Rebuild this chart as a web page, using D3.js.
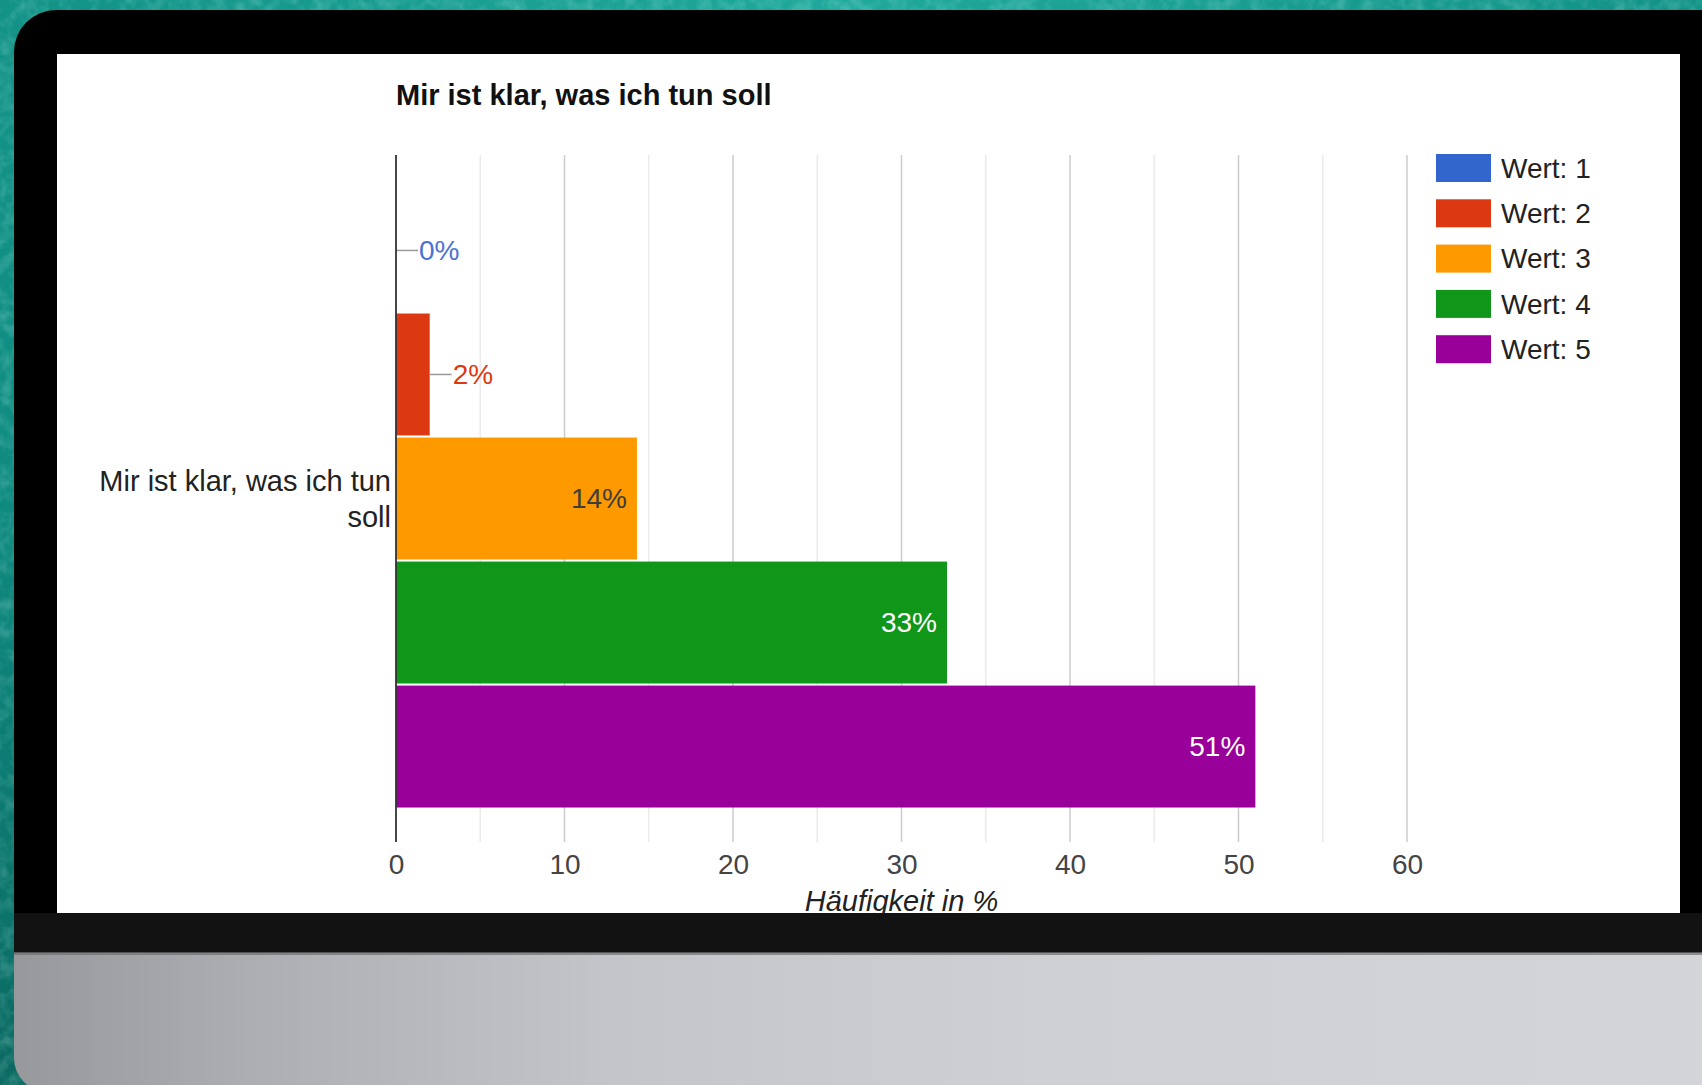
<!DOCTYPE html>
<html>
<head>
<meta charset="utf-8">
<script src="https://cdn.jsdelivr.net/npm/d3@7"></script>
<style>
  html, body { margin: 0; padding: 0; background: #0f8a80; overflow: hidden; }
  svg { display: block; }
  text { font-family: "Liberation Sans", Arial, sans-serif; }
</style>
</head>
<body>
<svg id="chart" width="1702" height="1085"></svg>
<script>
// ---- data ----
const chartTitle = "Mir ist klar, was ich tun soll";
const categories = ["Mir ist klar, was ich tun soll"];
const categoryLines = [["Mir ist klar, was ich tun", "soll"]];
const seriesNames = ["Wert: 1", "Wert: 2", "Wert: 3", "Wert: 4", "Wert: 5"];
const seriesValues = [0, 2.0, 14.3, 32.7, 51.0];
const valueLabels = ["0%", "2%", "14%", "33%", "51%"];
const xTicks = [0, 10, 20, 30, 40, 50, 60];
const gridValues = [5, 10, 15, 20, 25, 30, 35, 40, 45, 50, 55, 60];
const axisTitle = "Häufigkeit in %";

// ---- styles ----
const seriesColors = ["#3366cc", "#dc3912", "#ff9900", "#109618", "#990099"];
const insideTextColors = ["#ffffff", "#ffffff", "#3d3d3d", "#ffffff", "#ffffff"];
const outsideTextColors = ["#4a72d4", "#dc3912", "#ff9900", "#109618", "#990099"];

const svg = d3.select("#chart");
const W = 1702, H = 1085;
const defs = svg.append("defs");

// background teal with texture
const bgGrad = defs.append("radialGradient").attr("id", "bgGrad")
  .attr("cx", "0.5").attr("cy", "0").attr("r", "1.1");
bgGrad.append("stop").attr("offset", "0%").attr("stop-color", "#1fa89b");
bgGrad.append("stop").attr("offset", "60%").attr("stop-color", "#0f8b80");
bgGrad.append("stop").attr("offset", "100%").attr("stop-color", "#0a6a62");
const noise = defs.append("filter").attr("id", "noise").attr("x", 0).attr("y", 0).attr("width", "100%").attr("height", "100%");
noise.append("feTurbulence").attr("type", "fractalNoise").attr("baseFrequency", "0.08").attr("numOctaves", 3).attr("seed", 4).attr("result", "t");
noise.append("feColorMatrix").attr("type", "matrix")
  .attr("values", "0 0 0 0 0.6  0 0 0 0 1  0 0 0 0 0.95  0 0 0 1.2 -0.45");
svg.append("rect").attr("width", W).attr("height", H).attr("fill", "url(#bgGrad)");
svg.append("rect").attr("width", W).attr("height", H).attr("filter", "url(#noise)").attr("opacity", 0.35);

// monitor frame
const fx = 14, fy = 10, r1 = 42, r2 = 34, fRight = 1740, fBottom = 1092;
const framePath = `M${fx},${fy + r1} A${r1},${r1} 0 0 1 ${fx + r1},${fy} L${fRight},${fy} L${fRight},${fBottom} L${fx + r2},${fBottom} A${r2},${r2} 0 0 1 ${fx},${fBottom - r2} Z`;
defs.append("clipPath").attr("id", "frameClip").append("path").attr("d", framePath);
const fg = svg.append("g").attr("clip-path", "url(#frameClip)");
fg.append("rect").attr("x", 0).attr("y", 0).attr("width", W + 50).attr("height", 915).attr("fill", "#000");
fg.append("rect").attr("x", 0).attr("y", 913).attr("width", W + 50).attr("height", 41).attr("fill", "#121212");
const silver = defs.append("linearGradient").attr("id", "silver").attr("x1", 0).attr("x2", 1).attr("y1", 0).attr("y2", 0);
[["0%", "#96979b"], ["15%", "#aeafb3"], ["35%", "#c4c5c9"], ["60%", "#cfd0d4"], ["100%", "#d4d5d9"]]
  .forEach(([o, c]) => silver.append("stop").attr("offset", o).attr("stop-color", c));
fg.append("rect").attr("x", 0).attr("y", 953).attr("width", W + 50).attr("height", 140).attr("fill", "url(#silver)");
fg.append("rect").attr("x", 0).attr("y", 952).attr("width", W + 50).attr("height", 3).attr("fill", "#6e6f73").attr("opacity", 0.7);

// white panel
const panel = { x: 57, y: 54, w: 1623, h: 859 };
defs.append("clipPath").attr("id", "panelClip").append("rect")
  .attr("x", panel.x).attr("y", panel.y).attr("width", panel.w).attr("height", panel.h);
svg.append("rect").attr("x", panel.x).attr("y", panel.y).attr("width", panel.w).attr("height", panel.h).attr("fill", "#fff");
const g = svg.append("g").attr("clip-path", "url(#panelClip)");

// scales
const plot = { left: 396, right: 1407, top: 155, bottom: 842 };
const x = d3.scaleLinear().domain([0, 60]).range([plot.left, plot.right]);
const y0 = d3.scaleBand().domain(categories).range([plot.top, plot.bottom]).paddingOuter(0.0558).paddingInner(0);
const y1 = d3.scaleBand().domain(seriesNames).range([0, y0.bandwidth()]).paddingInner(0.017).paddingOuter(0);

// title
g.append("text").attr("x", 396).attr("y", 105).attr("font-size", 29).attr("font-weight", "bold")
  .attr("fill", "#111").text(chartTitle);

// gridlines
g.append("g").selectAll("line").data(gridValues).join("line")
  .attr("x1", d => x(d)).attr("x2", d => x(d))
  .attr("y1", plot.top).attr("y2", plot.bottom)
  .attr("stroke", d => d % 10 === 0 ? "#cccccc" : "#ebebeb").attr("stroke-width", 1.5);

// bars
const cat = categories[0];
const barData = seriesNames.map((s, i) => ({ s, i, v: seriesValues[i], label: valueLabels[i] }));
const barsG = g.append("g").attr("transform", `translate(0,${y0(cat)})`);
barsG.selectAll("rect").data(barData).join("rect")
  .attr("x", x(0)).attr("y", d => y1(d.s))
  .attr("width", d => x(d.v) - x(0)).attr("height", y1.bandwidth())
  .attr("fill", d => seriesColors[d.i]);

// value labels
barData.forEach(d => {
  const cy = y1(d.s) + y1.bandwidth() / 2;
  const xe = x(d.v);
  if (d.v >= 10) {
    barsG.append("text").attr("x", xe - 10).attr("y", cy).attr("dy", "0.35em")
      .attr("text-anchor", "end").attr("font-size", 28).attr("fill", insideTextColors[d.i]).text(d.label);
  } else {
    barsG.append("line").attr("x1", xe).attr("x2", xe + 22).attr("y1", cy).attr("y2", cy)
      .attr("stroke", "#999").attr("stroke-width", 1.5);
    barsG.append("text").attr("x", xe + 23).attr("y", cy).attr("dy", "0.35em")
      .attr("font-size", 28).attr("fill", outsideTextColors[d.i]).text(d.label);
  }
});

// baseline axis (x = 0)
g.append("line").attr("x1", x(0)).attr("x2", x(0)).attr("y1", plot.top).attr("y2", plot.bottom)
  .attr("stroke", "#333").attr("stroke-width", 1.8);

// x axis
const xAxis = g.append("g").attr("transform", `translate(0,${plot.bottom})`)
  .call(d3.axisBottom(x).tickValues(xTicks).tickSize(0).tickPadding(12).tickFormat(d3.format("d")));
xAxis.select(".domain").remove();
xAxis.selectAll("text").attr("font-size", 28).attr("fill", "#444").attr("font-family", "Liberation Sans, Arial, sans-serif");

// axis title
g.append("text").attr("x", (plot.left + plot.right) / 2).attr("y", 911).attr("text-anchor", "middle")
  .attr("font-size", 29).attr("font-style", "italic").attr("fill", "#222").text(axisTitle);

// category label
const cyc = y0(cat) + y0.bandwidth() / 2;
const catText = g.append("text").attr("text-anchor", "end").attr("font-size", 29).attr("fill", "#222");
categoryLines[0].forEach((ln, k) => {
  catText.append("tspan").attr("x", 391).attr("y", cyc - 8 + k * 36).text(ln);
});

// legend
const lg = g.append("g");
seriesNames.forEach((s, i) => {
  const yy = 154 + i * 45.3;
  lg.append("rect").attr("x", 1436).attr("y", yy).attr("width", 55).attr("height", 28).attr("fill", seriesColors[i]);
  lg.append("text").attr("x", 1501).attr("y", yy + 14).attr("dy", "0.35em").attr("font-size", 28)
    .attr("fill", "#222").text(s);
});
</script>
</body>
</html>
